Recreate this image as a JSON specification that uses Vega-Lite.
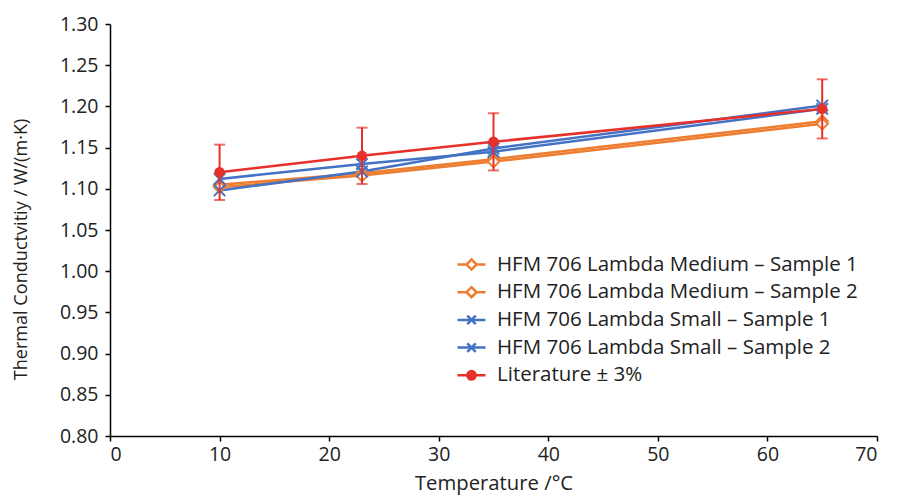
{
  "$schema": "https://vega.github.io/schema/vega-lite/v6.json",
  "autosize": "none",
  "width": 767,
  "height": 412,
  "padding": {"left": 110, "top": 24, "right": 30, "bottom": 60},
  "background": "white",
  "config": {
    "font": "Open Sans",
    "view": {"stroke": null},
    "axis": {
      "domainColor": "#000000",
      "domainWidth": 1.5,
      "tickColor": "#000000",
      "tickWidth": 1.5,
      "tickSize": 5,
      "labelFontSize": 19.5,
      "labelColor": "#222222",
      "labelFont": "Open Sans",
      "titleFont": "Open Sans",
      "titleFontSize": 19,
      "titleFontWeight": "normal",
      "titleColor": "#222222",
      "grid": false
    }
  },
  "datasets": {
    "meas": [
      {"series": "HFM 706 Lambda Medium – Sample 1", "T": 10, "k": 1.105},
      {"series": "HFM 706 Lambda Medium – Sample 1", "T": 23, "k": 1.119},
      {"series": "HFM 706 Lambda Medium – Sample 1", "T": 35, "k": 1.136},
      {"series": "HFM 706 Lambda Medium – Sample 1", "T": 65, "k": 1.182},
      {"series": "HFM 706 Lambda Medium – Sample 2", "T": 10, "k": 1.102},
      {"series": "HFM 706 Lambda Medium – Sample 2", "T": 23, "k": 1.116},
      {"series": "HFM 706 Lambda Medium – Sample 2", "T": 35, "k": 1.133},
      {"series": "HFM 706 Lambda Medium – Sample 2", "T": 65, "k": 1.179},
      {"series": "HFM 706 Lambda Small – Sample 1", "T": 10, "k": 1.112},
      {"series": "HFM 706 Lambda Small – Sample 1", "T": 23, "k": 1.130},
      {"series": "HFM 706 Lambda Small – Sample 1", "T": 35, "k": 1.145},
      {"series": "HFM 706 Lambda Small – Sample 1", "T": 65, "k": 1.197},
      {"series": "HFM 706 Lambda Small – Sample 2", "T": 10, "k": 1.098},
      {"series": "HFM 706 Lambda Small – Sample 2", "T": 23, "k": 1.121},
      {"series": "HFM 706 Lambda Small – Sample 2", "T": 35, "k": 1.149},
      {"series": "HFM 706 Lambda Small – Sample 2", "T": 65, "k": 1.201},
      {"series": "Literature ± 3%", "T": 10, "k": 1.120, "lo": 1.0864, "hi": 1.1536},
      {"series": "Literature ± 3%", "T": 23, "k": 1.140, "lo": 1.1058, "hi": 1.1742},
      {"series": "Literature ± 3%", "T": 35, "k": 1.157, "lo": 1.1223, "hi": 1.1917},
      {"series": "Literature ± 3%", "T": 65, "k": 1.197, "lo": 1.1611, "hi": 1.2329}
    ]
  },
  "data": {"name": "meas"},
  "encoding": {
    "x": {
      "field": "T", "type": "quantitative",
      "scale": {"domain": [0, 70], "nice": false, "zero": false},
      "axis": {"values": [0, 10, 20, 30, 40, 50, 60, 70], "title": "Temperature /°C", "labelPadding": 4, "titlePadding": 10, "titleFontSize": 20.3}
    },
    "y": {
      "field": "k", "type": "quantitative",
      "scale": {"domain": [0.8, 1.3], "nice": false, "zero": false},
      "axis": {"values": [0.8, 0.85, 0.9, 0.95, 1.0, 1.05, 1.1, 1.15, 1.2, 1.25, 1.3], "format": ".2f", "title": "Thermal Conductvitiy / W/(m·K)", "labelPadding": 7, "titlePadding": 29, "titleFontSize": 18.1, "titleY": 225}
    }
  },
  "layer": [
    {
      "mark": {"type": "line", "strokeWidth": 2.5},
      "encoding": {
        "stroke": {
          "field": "series", "type": "nominal",
          "scale": {
            "domain": ["HFM 706 Lambda Medium – Sample 1", "HFM 706 Lambda Medium – Sample 2", "HFM 706 Lambda Small – Sample 1", "HFM 706 Lambda Small – Sample 2", "Literature ± 3%"],
            "range": ["#ED7D31", "#ED7D31", "#4472C4", "#4472C4", "#E8302A"]
          },
          "legend": {
            "title": null,
            "orient": "none",
            "legendX": 346,
            "legendY": 225,
            "padding": 0,
            "symbolSize": 784,
            "symbolStrokeWidth": 2.5,
            "labelFontSize": 20.5,
            "labelColor": "#222222",
            "labelFont": "Open Sans",
            "labelOffset": 10,
            "labelLimit": 0,
            "rowPadding": 1.7,
            "encode": {
              "symbols": {
                "update": {
                  "shape": {"signal": "indexof(datum.value, 'Medium') >= 0 ? 'M-1,0H-0.36M0.36,0H1M0,-0.36L0.36,0L0,0.36L-0.36,0Z' : (indexof(datum.value, 'Small') >= 0 ? 'M-1,0H1M-0.3,-0.3L0.3,0.3M-0.3,0.3L0.3,-0.3' : 'M-1,0H1M-0.3,0A0.3,0.3,0,1,1,0.3,0A0.3,0.3,0,1,1,-0.3,0Z')"},
                  "fill": {"signal": "indexof(datum.value, 'Literature') >= 0 ? '#E8302A' : '#ffffff'"},
                  "strokeWidth": {"value": 2.5}
                }
              }
            }
          }
        }
      }
    },
    {
      "transform": [{"filter": "indexof(datum.series, 'Medium') >= 0"}],
      "mark": {"type": "point", "shape": "M0,-1L1,0L0,1L-1,0Z", "filled": false, "fill": "#ffffff", "fillOpacity": 1, "strokeWidth": 2, "opacity": 1, "size": 130},
      "encoding": {
        "stroke": {"field": "series", "type": "nominal", "legend": null}
      }
    },
    {
      "transform": [{"filter": "indexof(datum.series, 'Small') >= 0"}],
      "mark": {"type": "point", "shape": "M-1,-1L1,1M-1,1L1,-1", "filled": false, "strokeWidth": 2, "opacity": 1, "size": 130},
      "encoding": {
        "stroke": {"field": "series", "type": "nominal", "legend": null}
      }
    },
    {
      "transform": [{"filter": "indexof(datum.series, 'Literature') >= 0"}],
      "mark": {"type": "point", "shape": "circle", "filled": true, "fill": "#E8302A", "strokeWidth": 0, "opacity": 1, "size": 110},
      "encoding": {}
    },
    {
      "transform": [{"filter": "isValid(datum.lo)"}],
      "mark": {"type": "errorbar", "color": "#E8302A", "thickness": 2, "ticks": {"size": 11, "thickness": 2, "color": "#E8302A"}},
      "encoding": {
        "y": {"field": "lo", "type": "quantitative"},
        "y2": {"field": "hi"}
      }
    }
  ]
}
